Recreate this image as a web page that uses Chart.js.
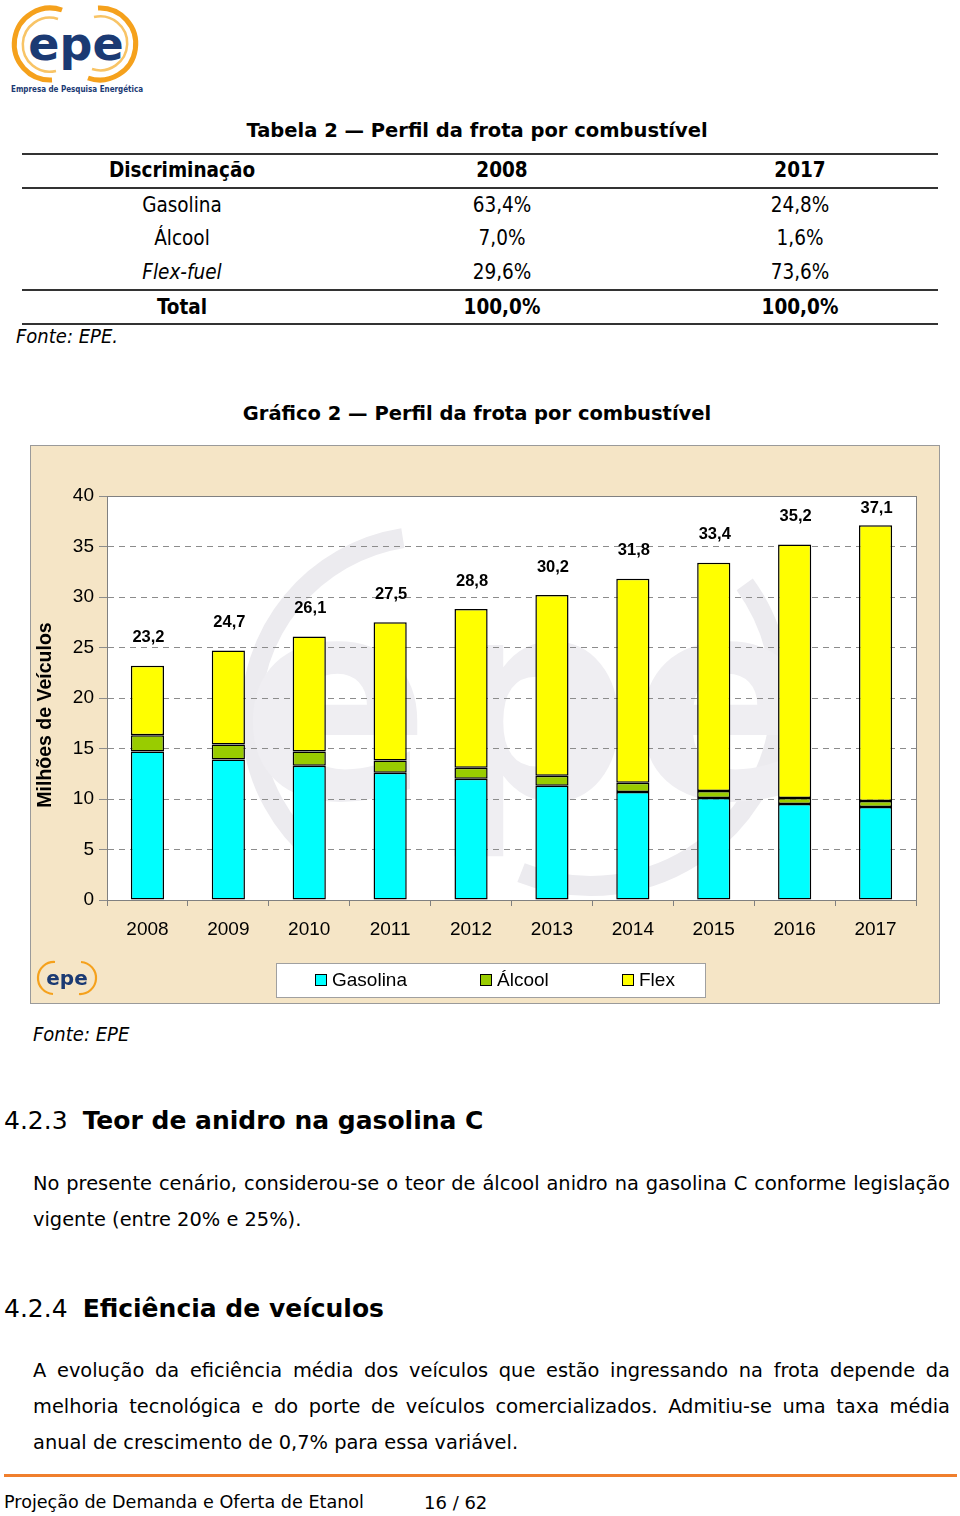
<!DOCTYPE html>
<html lang="pt">
<head>
<meta charset="utf-8">
<title>Perfil da frota por combustível</title>
<script src="https://cdn.jsdelivr.net/npm/chart.js@4.4.1/dist/chart.umd.min.js"></script>
<style>
  body { margin: 0; width: 960px; height: 1516px; background: #fff; position: relative; overflow: hidden;
         font-family: "DejaVu Sans", sans-serif; color: #000; }
  .abs { position: absolute; white-space: nowrap; }
  .cap { left: 0; width: 954px; text-align: center; font-weight: bold; font-size: 19.5px; }
  .rule { position: absolute; left: 22px; width: 916px; height: 0; border-top: 2px solid #333; }
  .cell { position: absolute; width: 240px; margin-left: -120px; text-align: center; height: 34px; line-height: 34px;
          font-family: "DejaVu Sans Condensed", "DejaVu Sans", sans-serif; font-size: 20.5px; }
  .b { font-weight: bold; }
  .src { font-style: italic; font-size: 20px; font-family: "DejaVu Sans Condensed", "DejaVu Sans", sans-serif; }
  .sec { font-size: 25px; left: 4px; }
  .sec b { margin-left: 15px; }
  .line { position: absolute; left: 33px; font-size: 19.4px; line-height: 36px; height: 36px; white-space: nowrap; }

  #chartBox { position: absolute; left: 30px; top: 445px; width: 908px; height: 557px;
              border: 1px solid #9a9a9a; background: #f5e5c6; }
  #chartBox canvas { position: absolute; left: 0; top: 0; }
  #legend { position: absolute; left: 245px; top: 517px; width: 428px; height: 33px; background: #fff;
            border: 1px solid #a0a0a0; font-family: "Liberation Sans", Arial, sans-serif; font-size: 19px; }
  #legend span { position: absolute; top: 5px; line-height: 22px; }
  #legend i { display: inline-block; width: 10px; height: 10px; border: 1px solid #000; margin-right: 5px; vertical-align: 0; }
</style>
</head>
<body>

<!-- logo -->
<svg class="abs" style="left:0;top:0" width="160" height="100" viewBox="0 0 160 100">
  <path d="M62 10 A36 36 0 1 0 52 80" fill="none" stroke="#f5a11c" stroke-width="5"/>
  <path d="M58 19 A27 27 0 1 0 56 71" fill="none" stroke="#f8c466" stroke-width="2.5"/>
  <path d="M88 78 A36 36 0 1 0 98 8" fill="none" stroke="#f5a11c" stroke-width="5"/>
  <path d="M92 69 A27 27 0 1 0 94 17" fill="none" stroke="#f8c466" stroke-width="2.5"/>
  <text x="76" y="60" text-anchor="middle" font-family="DejaVu Sans" font-weight="bold" font-size="46" fill="#1b3a73">epe</text>
  <text x="11" y="92" font-family="DejaVu Sans Condensed" font-weight="bold" font-size="9.4" fill="#1b3a73"
        textLength="132" lengthAdjust="spacingAndGlyphs">Empresa de Pesquisa Energética</text>
</svg>

<!-- tabela -->
<div class="abs cap" style="top:119px">Tabela 2 — Perfil da frota por combustível</div>
<div class="rule" style="top:153px"></div>
<div class="rule" style="top:187px"></div>
<div class="rule" style="top:289px"></div>
<div class="rule" style="top:323px"></div>

<div class="cell b" style="left:182px;top:153px">Discriminação</div>
<div class="cell b" style="left:502px;top:153px">2008</div>
<div class="cell b" style="left:800px;top:153px">2017</div>

<div class="cell" style="left:182px;top:188px">Gasolina</div>
<div class="cell" style="left:502px;top:188px">63,4%</div>
<div class="cell" style="left:800px;top:188px">24,8%</div>

<div class="cell" style="left:182px;top:221px">Álcool</div>
<div class="cell" style="left:502px;top:221px">7,0%</div>
<div class="cell" style="left:800px;top:221px">1,6%</div>

<div class="cell" style="left:182px;top:255px"><i>Flex-fuel</i></div>
<div class="cell" style="left:502px;top:255px">29,6%</div>
<div class="cell" style="left:800px;top:255px">73,6%</div>

<div class="cell b" style="left:182px;top:290px">Total</div>
<div class="cell b" style="left:502px;top:290px">100,0%</div>
<div class="cell b" style="left:800px;top:290px">100,0%</div>

<div class="abs src" style="left:16px;top:324px">Fonte: EPE.</div>

<!-- grafico -->
<div class="abs cap" style="top:402px">Gráfico 2 — Perfil da frota por combustível</div>

<div id="chartBox">
  <canvas id="frota" width="908" height="557"></canvas>
  <svg class="abs" style="left:4px;top:512px" width="64" height="40" viewBox="0 0 64 40">
    <path d="M20 4 A16 16 0 1 0 18 36" fill="none" stroke="#f5a11c" stroke-width="2.2"/>
    <path d="M44 36 A16 16 0 1 0 46 4" fill="none" stroke="#f5a11c" stroke-width="2.2"/>
    <text x="32" y="27" text-anchor="middle" font-family="DejaVu Sans" font-weight="bold" font-size="20" fill="#1b3a73">epe</text>
  </svg>
  <div id="legend"></div>
</div>

<div class="abs src" style="left:33px;top:1022px">Fonte: EPE</div>

<!-- texto -->
<div class="abs sec" style="top:1106px">4.2.3<b>Teor de anidro na gasolina C</b></div>
<div class="line" data-just="1" style="top:1166px">No presente cenário, considerou-se o teor de álcool anidro na gasolina C conforme legislação</div>
<div class="line" style="top:1202px">vigente (entre 20% e 25%).</div>

<div class="abs sec" style="top:1294px">4.2.4<b>Eficiência de veículos</b></div>
<div class="line" data-just="1" style="top:1353px">A evolução da eficiência média dos veículos que estão ingressando na frota depende da</div>
<div class="line" data-just="1" style="top:1389px">melhoria tecnológica e do porte de veículos comercializados. Admitiu-se uma taxa média</div>
<div class="line" style="top:1425px">anual de crescimento de 0,7% para essa variável.</div>

<div class="abs" style="left:4px;top:1474px;width:953px;height:3px;background:#f07f2d"></div>
<div class="abs" style="left:4px;top:1492px;font-size:17.6px">Projeção de Demanda e Oferta de Etanol</div>
<div class="abs" style="left:424px;top:1492px;font-size:18px">16 / 62</div>

<script>
// --- Dados (milhões de veículos) ---
const years = ['2008', '2009', '2010', '2011', '2012', '2013', '2014', '2015', '2016', '2017'];
const gasolina = [14.7, 13.9, 13.3, 12.6, 12.0, 11.3, 10.7, 10.1, 9.5, 9.2];
const alcool = [1.6, 1.5, 1.4, 1.2, 1.1, 1.0, 0.9, 0.7, 0.6, 0.6];
const flex = [6.9, 9.3, 11.4, 13.7, 15.7, 17.9, 20.2, 22.6, 25.1, 27.3];
const totals = [23.2, 24.7, 26.1, 27.5, 28.8, 30.2, 31.8, 33.4, 35.2, 37.1];
const yTicks = [0, 5, 10, 15, 20, 25, 30, 35, 40];

const seriesNames = ['Gasolina', 'Álcool', 'Flex'];
const seriesColors = ['#00ffff', '#99cc00', '#ffff00'];

const fmt = v => v.toFixed(1).replace('.', ',');
const axisFont = { family: '"Liberation Sans", Arial, sans-serif', size: 19 };

// fundo branco da área do gráfico + marca d'água
const plotBackground = {
    id: 'plotBackground',
    beforeDraw(chart) {
        const { ctx, chartArea: a } = chart;
        ctx.save();
        ctx.fillStyle = '#fff';
        ctx.fillRect(a.left, a.top, a.right - a.left, a.bottom - a.top);
        ctx.beginPath();
        ctx.rect(a.left, a.top, a.right - a.left, a.bottom - a.top);
        ctx.clip();
        ctx.strokeStyle = '#ecebef';
        ctx.lineWidth = 20;
        ctx.beginPath();
        ctx.arc(400, 270, 180, Math.PI * 0.72, Math.PI * 1.45);
        ctx.stroke();
        ctx.beginPath();
        ctx.arc(560, 250, 190, -Math.PI * 0.2, Math.PI * 0.62);
        ctx.stroke();
        ctx.fillStyle = '#efeef2';
        ctx.font = 'bold 280px "DejaVu Sans", sans-serif';
        ctx.textAlign = 'center';
        ctx.textBaseline = 'alphabetic';
        ctx.fillText('epe', 500, 352);
        ctx.restore();
    }
};

// moldura, totais e título do eixo
const extras = {
    id: 'extras',
    afterDatasetsDraw(chart) {
        const { ctx, chartArea: a } = chart;
        ctx.save();
        ctx.strokeStyle = '#808080';
        ctx.lineWidth = 1;
        ctx.strokeRect(Math.round(a.left) + 0.5, Math.round(a.top) + 0.5,
                       Math.round(a.right - a.left), Math.round(a.bottom - a.top));

        const top = chart.getDatasetMeta(2);
        ctx.fillStyle = '#000';
        ctx.font = 'bold 16.5px "Liberation Sans", Arial, sans-serif';
        ctx.textAlign = 'center';
        ctx.textBaseline = 'middle';
        top.data.forEach((bar, i) => {
            const y = Math.max(bar.y - 28, a.top + 12);
            ctx.fillText(fmt(totals[i]), bar.x + 1, y);
        });

        ctx.translate(15, 269);
        ctx.rotate(-Math.PI / 2);
        ctx.font = 'bold 19.5px "Liberation Sans", Arial, sans-serif';
        ctx.fillText('Milhões de Veículos', 0, 0);
        ctx.restore();
    }
};

new Chart(document.getElementById('frota'), {
    type: 'bar',
    data: {
        labels: years,
        datasets: [gasolina, alcool, flex].map((d, i) => ({
            label: seriesNames[i],
            data: d,
            backgroundColor: seriesColors[i],
            borderColor: '#000',
            borderWidth: 1.5,
            borderSkipped: false,
            barPercentage: 0.41,
            categoryPercentage: 1.0
        }))
    },
    options: {
        responsive: false,
        animation: false,
        devicePixelRatio: 1,
        layout: { padding: { top: 50, right: 23, left: 0, bottom: 0 } },
        plugins: { legend: { display: false }, tooltip: { enabled: false } },
        scales: {
            x: {
                stacked: true,
                offset: true,
                grid: { display: true, drawOnChartArea: false, offset: true, tickLength: 6, color: '#808080' },
                border: { display: true, color: '#808080' },
                ticks: { color: '#000', font: axisFont, padding: 12, maxRotation: 0 },
                afterFit: s => { s.height = 103; }
            },
            y: {
                stacked: true,
                min: 0,
                max: 40,
                grid: { color: '#8c8c8c', tickLength: 8 },
                border: { display: true, color: '#808080', dash: [6, 5] },
                ticks: { color: '#000', font: axisFont, padding: 5 },
                afterBuildTicks: s => { s.ticks = yTicks.map(v => ({ value: v })); },
                afterFit: s => { s.width = 76; }
            }
        }
    },
    plugins: [plotBackground, extras]
});

// legenda
const legend = document.getElementById('legend');
const legendX = [38, 203, 345];
seriesNames.forEach((name, i) => {
    const s = document.createElement('span');
    s.style.left = legendX[i] + 'px';
    s.innerHTML = `<i style="background:${seriesColors[i]}"></i>${name}`;
    legend.appendChild(s);
});

// linhas justificadas do texto (largura 917px)
document.querySelectorAll('.line').forEach(el => {
    const target = 917;
    const w = el.getBoundingClientRect().width;
    const text = el.textContent;
    if (w > target) {
        el.style.letterSpacing = ((target - w) / text.length) + 'px';
    } else if (el.dataset.just) {
        const spaces = (text.match(/ /g) || []).length;
        el.style.wordSpacing = ((target - w) / spaces) + 'px';
    }
});
</script>
</body>
</html>
